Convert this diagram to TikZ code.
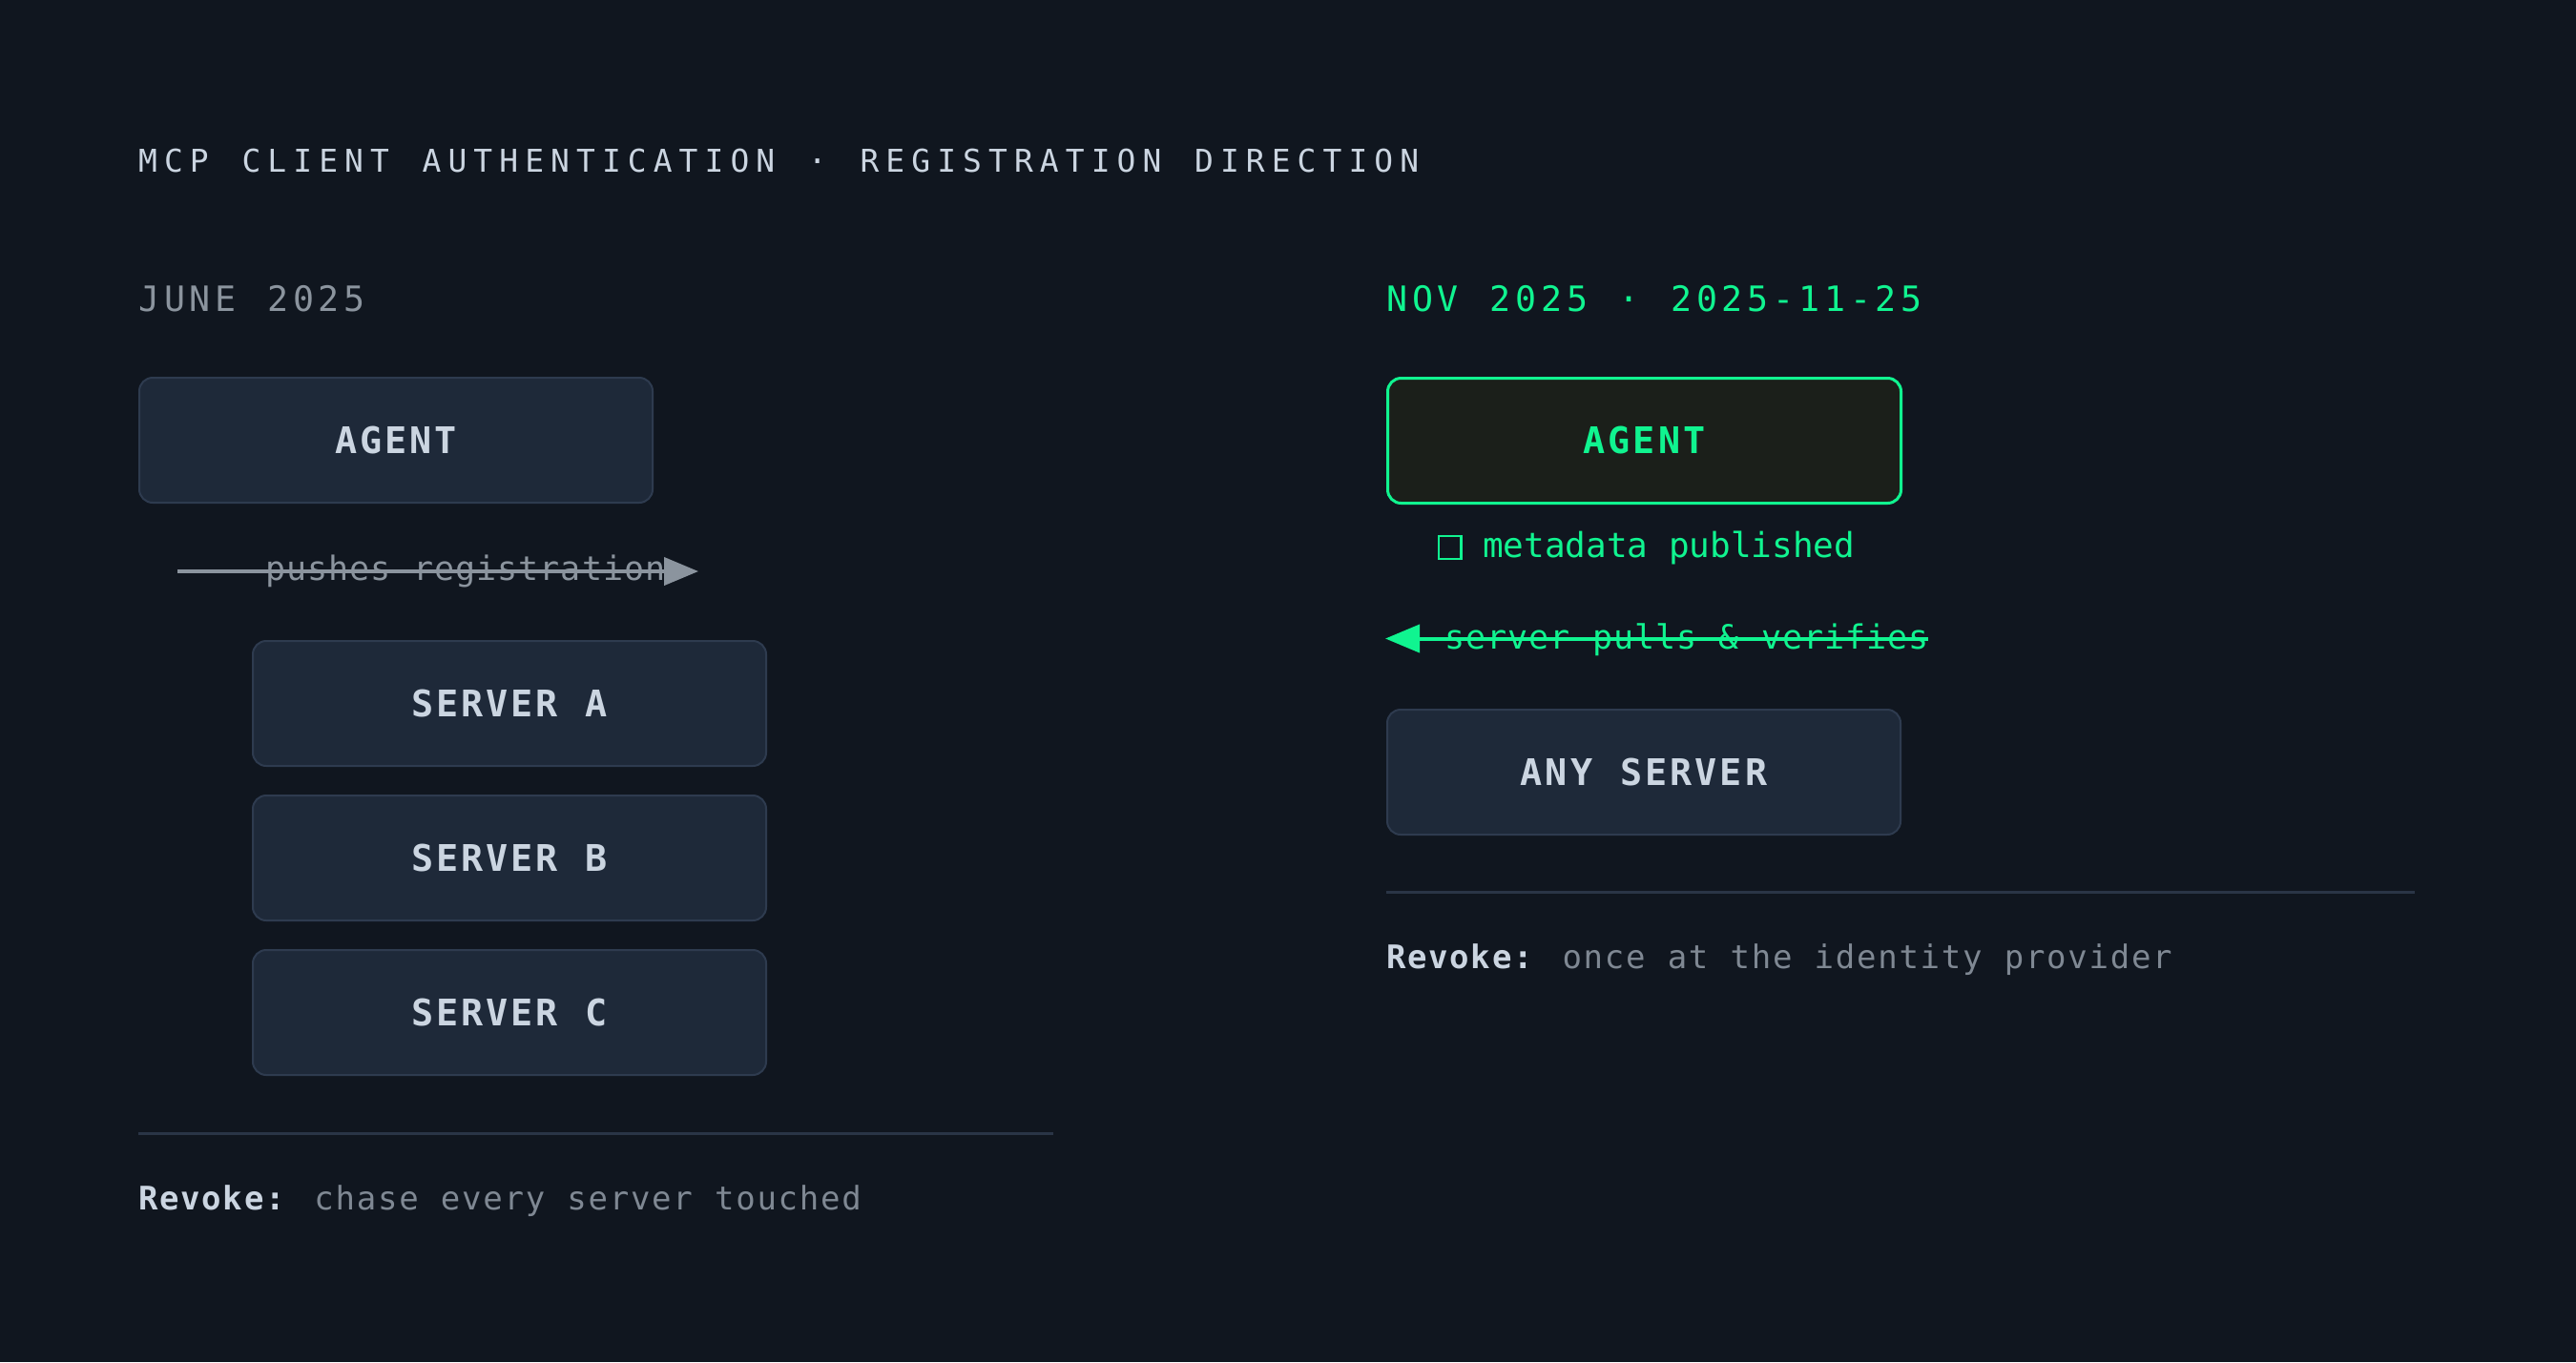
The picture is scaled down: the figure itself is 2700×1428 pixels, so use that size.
\documentclass[tikz,border=0pt]{standalone}
\usepackage{fontspec}
\setmainfont{DejaVu Sans Mono}
\newfontfamily\famTitle{DejaVu Sans Mono}[LetterSpace=21.6,WordSpace=1.29]
\newfontfamily\famHead{DejaVu Sans Mono}[LetterSpace=13.1,WordSpace=1.216]
\newfontfamily\famBox{DejaVu Sans Mono}[LetterSpace=8,WordSpace=1.1]
\newfontfamily\famArrow{DejaVu Sans Mono}[LetterSpace=3,WordSpace=1.049]
\newfontfamily\famRev{DejaVu Sans Mono}[LetterSpace=5.1,WordSpace=1.045]
\usetikzlibrary{arrows.meta}
\definecolor{bg}{HTML}{10161F}
\definecolor{boxfill}{HTML}{1E2939}
\definecolor{boxline}{HTML}{2E3B4F}
\definecolor{txtlight}{HTML}{CBD5E1}
\definecolor{txtgray}{HTML}{8B949E}
\definecolor{txtdim}{HTML}{7F8893}
\definecolor{neon}{HTML}{10F490}
\definecolor{agentfill}{HTML}{1B1F1A}
\definecolor{rulecol}{HTML}{2A3546}
\newcommand\fTitle{\famTitle\fontsize{32.9}{40}\selectfont}
\newcommand\fHead{\famHead\fontsize{36.6}{44}\selectfont}
\newcommand\fBox{\famBox\fontsize{38.4}{46}\selectfont\bfseries}
\newcommand\fArrow{\famArrow\fontsize{35}{42}\selectfont}
\newcommand\fMeta{\fontsize{36}{42}\selectfont}
\newcommand\fRev{\famRev\fontsize{34}{42}\selectfont}
\begin{document}
\begin{tikzpicture}[x=1pt,y=-1pt,
  card/.style={draw=boxline, line width=2pt, fill=boxfill, rounded corners=14pt,
    minimum width=538pt, minimum height=131pt, inner sep=0pt, anchor=north west,
    text=txtlight, font=\fBox},
  greencard/.style={card, draw=neon, line width=3pt, fill=agentfill, text=neon},
  txt/.style={inner sep=0pt, anchor=base west},
  flowarrow/.style={line width=4pt, -{Triangle[length=36pt,width=29pt]}},
  sep/.style={draw=rulecol, line width=3pt}
]
\fill[bg] (0,0) rectangle (2700,1428);
\useasboundingbox (0,0) rectangle (2700,1428);

% title
\node[txt, text=txtlight, font=\fTitle] (title) at (145,180)
  {MCP CLIENT AUTHENTICATION · REGISTRATION DIRECTION};

% left column
\node[txt, text=txtgray, font=\fHead] (june) at (145,326.5) {JUNE 2025};
\node[card] (agentL) at (145,395) {AGENT};
\node[txt, text=txtgray, font=\fArrow] (push) at (278,608) {pushes registration};
\coordinate (pushS) at (186,599);
\coordinate (pushE) at (732,599);
\draw[flowarrow, draw=txtgray, fill=txtgray] (pushS) -- (pushE);
\node[card] (srvA) at (264,671) {SERVER A};
\node[card] (srvB) at (264,833) {SERVER B};
\node[card] (srvC) at (264,995) {SERVER C};
\coordinate (sepLa) at (145,1188);
\coordinate (sepLb) at (1104,1188);
\draw[sep] (sepLa) -- (sepLb);
\node[txt, text=txtdim, font=\fRev] (revL) at (145,1268)
  {{\color{txtlight}\bfseries Revoke:} chase every server touched};

% right column
\node[txt, text=neon, font=\fHead] (nov) at (1453,326.5) {NOV 2025 · 2025-11-25};
\node[greencard] (agentR) at (1453,395) {AGENT};
\draw[neon, line width=2.5pt] (1507.9,561.9) rectangle (1531.5,585.8);
\node[txt, text=neon, font=\fMeta] (meta) at (1554,584) {metadata published};
\node[txt, text=neon, font=\fArrow] (pull) at (1514,680) {server pulls \& verifies};
\coordinate (pullS) at (2021,669.5);
\coordinate (pullE) at (1452,669.5);
\draw[flowarrow, draw=neon, fill=neon] (pullS) -- (pullE);
\node[card] (anysrv) at (1453,743) {ANY SERVER};
\coordinate (sepRa) at (1453,935);
\coordinate (sepRb) at (2531,935);
\draw[sep] (sepRa) -- (sepRb);
\node[txt, text=txtdim, font=\fRev] (revR) at (1453,1015)
  {{\color{txtlight}\bfseries Revoke:} once at the identity provider};
\end{tikzpicture}
\end{document}
